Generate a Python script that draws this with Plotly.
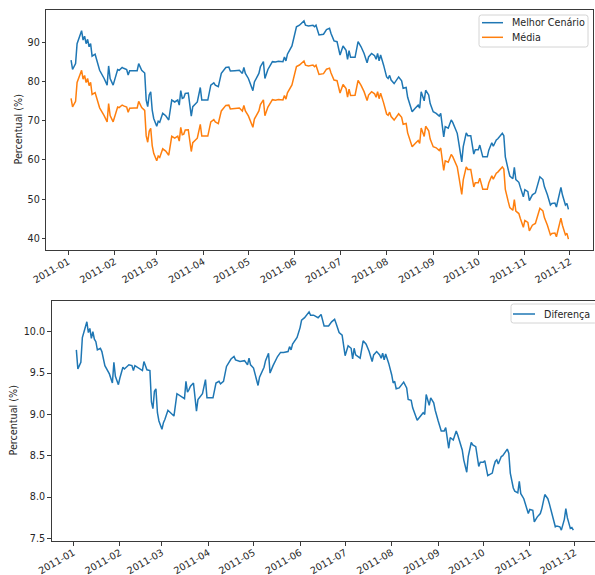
import pandas as pd
import plotly.graph_objects as go

# Day offsets from 2011-01-01 for each observation, grouped by month
dias = [
    2, 3, 5, 6, 9, 10, 11, 12, 13, 14, 15, 16, 18, 19, 21, 24, 26, 27, 28, 30,
    31, 33, 34, 36, 37, 39, 40, 41, 44, 46, 47, 49, 51, 52, 53, 54, 55, 56, 57,
    59, 60, 61, 63, 65, 67, 69, 71, 73, 74, 75, 76, 77, 78, 80, 82, 83, 86, 88, 89,
    93, 95, 97, 98, 100, 102, 105, 107, 108, 111, 114, 116, 117, 118,
    120, 123, 124, 127, 128, 130, 131, 133, 136, 138, 140, 143, 144, 145, 146, 149,
    151, 152, 154, 157, 158, 160, 163, 164, 165, 167, 170, 172, 174, 175, 177, 179,
    181, 183, 185, 186, 187, 188, 191, 193, 195, 197, 199, 200, 202, 204, 205, 206, 207, 208, 210,
    212, 213, 214, 215, 217, 220, 222, 223, 225, 226, 229, 231, 233, 234, 235, 237, 238, 240, 241,
    243, 245, 247, 248, 250, 251, 253, 255, 256, 259, 260, 262, 263, 265, 266, 268, 270, 271,
    273, 274, 276, 279, 280, 281, 282, 283, 285, 286, 289, 290, 291, 293, 294, 296, 297, 298, 300, 301, 303,
    304, 306, 307, 309, 311, 312, 314, 316, 317, 319, 321, 322, 324, 325, 327, 328, 329, 331, 332, 333,
]

melhor_cenario = [
    85.5, 83.1, 84.6, 89.7, 93.0, 90.6, 91.6, 89.7, 90.8, 88.9, 89.7, 86.5, 87.0, 85.7, 82.9, 80.8, 79.1, 84.0, 80.8, 79.1,
    80.6, 83.1, 82.9, 83.6, 83.4, 83.1, 81.7, 82.8, 82.8, 82.8, 84.6, 82.9, 82.2, 75.3, 73.6, 76.6, 77.4, 72.7, 70.6,
    68.6, 69.9, 69.6, 71.9, 71.3, 70.2, 75.3, 74.8, 75.3, 74.0, 77.7, 75.7, 75.9, 77.0, 77.1, 71.2, 73.6, 74.8, 78.5, 75.3,
    75.3, 79.1, 79.7, 79.1, 78.7, 82.1, 83.6, 83.7, 82.7, 82.8, 82.9, 82.1, 83.6, 82.1,
    80.8, 77.7, 79.9, 82.1, 83.8, 85.1, 80.8, 83.1, 85.1, 85.0, 85.2, 85.1, 86.3, 85.3, 87.0, 89.1,
    91.9, 94.0, 94.4, 95.5, 94.4, 94.2, 94.4, 94.0, 94.4, 91.9, 92.1, 93.3, 93.6, 92.3, 90.4, 90.2,
    86.8, 89.1, 88.0, 85.7, 87.9, 86.2, 86.2, 90.2, 88.9, 87.2, 84.8, 86.3, 87.2, 86.6, 85.7, 87.2, 85.3, 86.8, 84.2,
    81.2, 80.8, 81.6, 80.4, 79.5, 81.2, 80.2, 78.3, 78.5, 76.0, 72.3, 73.2, 74.0, 73.2, 77.4, 75.1, 77.8, 76.6, 74.4,
    72.3, 71.9, 71.2, 71.9, 65.9, 68.5, 68.1, 70.2, 69.6, 66.8, 64.4, 59.5, 63.4, 66.9, 66.2, 66.2, 61.5, 62.6,
    62.6, 63.8, 60.8, 60.8, 62.5, 63.4, 64.4, 63.5, 65.1, 65.4, 66.8, 66.2, 60.8, 57.4, 55.9, 55.2, 58.1, 55.0, 54.3, 53.0, 50.6,
    52.4, 51.9, 49.6, 51.1, 51.6, 53.2, 55.7, 55.0, 53.2, 51.1, 48.5, 48.9, 49.0, 48.0, 51.1, 53.0, 51.1, 48.5, 48.9, 47.4,
]

diferenca = [
    9.78, 9.55, 9.63, 9.93, 10.12, 9.99, 10.04, 9.92, 10.00, 9.91, 9.88, 9.78, 9.80, 9.76, 9.59, 9.49, 9.38, 9.63, 9.46, 9.36,
    9.44, 9.57, 9.55, 9.58, 9.60, 9.59, 9.53, 9.59, 9.55, 9.53, 9.64, 9.54, 9.53, 9.15, 9.07, 9.28, 9.31, 9.02, 8.92,
    8.82, 8.90, 8.94, 9.05, 9.02, 8.98, 9.25, 9.23, 9.21, 9.19, 9.40, 9.27, 9.30, 9.34, 9.38, 9.04, 9.18, 9.25, 9.42, 9.20,
    9.20, 9.38, 9.40, 9.37, 9.40, 9.58, 9.67, 9.70, 9.66, 9.64, 9.65, 9.60, 9.68, 9.60,
    9.56, 9.35, 9.45, 9.57, 9.65, 9.74, 9.50, 9.59, 9.70, 9.75, 9.75, 9.76, 9.82, 9.78, 9.85, 9.93,
    10.05, 10.14, 10.17, 10.24, 10.20, 10.20, 10.17, 10.19, 10.21, 10.07, 10.07, 10.12, 10.15, 10.10, 9.99, 9.96,
    9.71, 9.83, 9.80, 9.67, 9.80, 9.72, 9.68, 9.89, 9.85, 9.76, 9.64, 9.72, 9.76, 9.72, 9.68, 9.74, 9.66, 9.73, 9.62,
    9.48, 9.38, 9.40, 9.31, 9.32, 9.39, 9.32, 9.18, 9.17, 9.08, 8.93, 8.97, 9.02, 9.00, 9.24, 9.11, 9.20, 9.14, 9.05,
    8.92, 8.80, 8.80, 8.84, 8.59, 8.72, 8.69, 8.80, 8.75, 8.57, 8.45, 8.30, 8.49, 8.66, 8.63, 8.61, 8.37, 8.42,
    8.42, 8.44, 8.26, 8.29, 8.37, 8.43, 8.45, 8.40, 8.49, 8.50, 8.58, 8.53, 8.29, 8.11, 8.07, 8.05, 8.19, 8.04, 7.98, 7.92, 7.80,
    7.85, 7.84, 7.70, 7.76, 7.80, 7.86, 8.03, 7.98, 7.92, 7.78, 7.64, 7.65, 7.64, 7.60, 7.73, 7.86, 7.75, 7.62, 7.63, 7.60,
]

# Média is the best scenario minus the difference
media = [round(m - d, 2) for m, d in zip(melhor_cenario, diferenca)]

datas = pd.Timestamp("2011-01-01") + pd.to_timedelta(dias, unit="D")

W, H = 595, 575
AZUL = "#1f77b4"
LARANJA = "#ff7f0e"
TEXTO = "#262626"
EIXO = "#3a3a3a"
FONTE = "DejaVu Sans"
FS = 9.6


def px(x):
    return x / W


def py(y):
    return 1 - y / H


def margem(lo, hi, frac=0.05):
    span = hi - lo
    return lo - frac * span, hi + frac * span


# x range with 5% padding on each side
x0, x1 = margem(datas.min().value, datas.max().value)
x_ini = pd.Timestamp(int(x0))
x_fim = pd.Timestamp(int(x1))
# lower panel is cropped on the right edge of the canvas
frac_visivel = (595 - 51.5) / (598.2 - 51.5)
x_fim2 = pd.Timestamp(int(x0 + (x1 - x0) * frac_visivel))

y_top = margem(min(media), max(melhor_cenario))
y_bot = margem(min(diferenca), max(diferenca))

fig = go.Figure()

fig.add_trace(go.Scatter(x=datas, y=melhor_cenario, mode="lines", name="Melhor Cenário",
                         line=dict(color=AZUL, width=1.5), xaxis="x", yaxis="y", showlegend=False))
fig.add_trace(go.Scatter(x=datas, y=media, mode="lines", name="Média",
                         line=dict(color=LARANJA, width=1.5), xaxis="x", yaxis="y", showlegend=False))
fig.add_trace(go.Scatter(x=datas, y=diferenca, mode="lines", name="Diferença",
                         line=dict(color=AZUL, width=1.5), xaxis="x2", yaxis="y2", showlegend=False))

eixo_comum = dict(
    showgrid=False, zeroline=False, showline=True, linecolor=EIXO, linewidth=1,
    ticks="outside", ticklen=3.5, tickwidth=1, tickcolor=EIXO, automargin=False,
    tickfont=dict(family=FONTE, size=FS, color=TEXTO),
)

x_comum = dict(eixo_comum, type="date", tick0="2011-01-01", dtick="M1",
               tickformat="%Y-%m", tickangle=-30, mirror=True, ticklabelstandoff=-2)

fig.update_layout(
    template="none",
    width=W, height=H,
    margin=dict(l=0, r=0, t=0, b=0, pad=0),
    paper_bgcolor="white", plot_bgcolor="white",
    font=dict(family=FONTE, size=FS, color=TEXTO),
    xaxis=dict(x_comum, domain=[px(46.2), px(593.3)], range=[x_ini, x_fim], anchor="y"),
    yaxis=dict(eixo_comum, domain=[py(250), py(10)], range=list(y_top), dtick=10,
               mirror=True, anchor="x"),
    xaxis2=dict(x_comum, domain=[px(51.5), 1.0], range=[x_ini, x_fim2], anchor="y2"),
    yaxis2=dict(eixo_comum, domain=[py(541), py(301)], range=list(y_bot), dtick=0.5,
                tickformat=".1f", mirror=False, anchor="x2"),
)


def caixa_arredondada(x0, y0, x1, y1, r=2.5):
    pts = [
        f"M {px(x0 + r)},{py(y0)}", f"L {px(x1 - r)},{py(y0)}",
        f"Q {px(x1)},{py(y0)} {px(x1)},{py(y0 + r)}", f"L {px(x1)},{py(y1 - r)}",
        f"Q {px(x1)},{py(y1)} {px(x1 - r)},{py(y1)}", f"L {px(x0 + r)},{py(y1)}",
        f"Q {px(x0)},{py(y1)} {px(x0)},{py(y1 - r)}", f"L {px(x0)},{py(y0 + r)}",
        f"Q {px(x0)},{py(y0)} {px(x0 + r)},{py(y0)}", "Z",
    ]
    return dict(type="path", xref="paper", yref="paper", path=" ".join(pts),
                line=dict(color="#d4d4d4", width=1), fillcolor="rgba(255,255,255,0.85)")


def amostra(x0, x1, y, cor):
    return dict(type="line", xref="paper", yref="paper", x0=px(x0), x1=px(x1),
                y0=py(y), y1=py(y), line=dict(color=cor, width=1.5))


def rotulo(x, y, texto, **kw):
    return dict(x=px(x), y=py(y), xref="paper", yref="paper", text=texto, showarrow=False,
                font=dict(family=FONTE, size=FS, color=TEXTO), **kw)


formas = [
    caixa_arredondada(479, 15, 588, 47),
    amostra(482, 503, 22.7, AZUL),
    amostra(482, 503, 37.3, LARANJA),
    caixa_arredondada(511, 304, 597, 323),
    amostra(513, 535, 314, AZUL),
]

anotacoes = [
    rotulo(510, 22.7, "Melhor Cenário", xanchor="left", yanchor="middle"),
    rotulo(510, 37.3, "Média", xanchor="left", yanchor="middle"),
    rotulo(542, 314, "Diferença", xanchor="left", yanchor="middle"),
    rotulo(17.5, 130, "Percentual (%)", textangle=-90, xanchor="center", yanchor="middle"),
    rotulo(12.5, 421, "Percentual (%)", textangle=-90, xanchor="center", yanchor="middle"),
]

fig.update_layout(shapes=formas, annotations=anotacoes)

fig.write_html("out.html", config={"displayModeBar": False})
